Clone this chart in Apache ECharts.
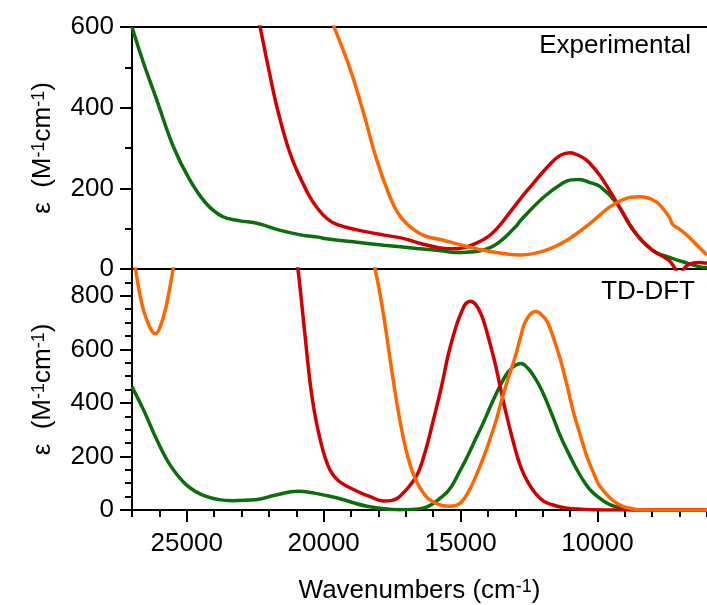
<!DOCTYPE html>
<html>
<head>
<meta charset="utf-8">
<script src="https://cdn.jsdelivr.net/npm/echarts@6/dist/echarts.min.js"></script>
<style>html,body{margin:0;padding:0;background:#fff}#c{width:707px;height:605px}</style>
</head>
<body>
<div id="c"></div>
<script>
// [wavenumber (cm-1), epsilon (M-1 cm-1)]
var expGreen = [[27000,600],[26600,515],[26100,420],[25500,305],[24900,222],[24300,163],[23700,130],[23100,120],[22400,113],[21650,97],[20800,84],[20200,79],[19900,75],[19000,68],[17800,59],[16600,51],[15700,45],[15200,41],[14500,43],[13750,59],[13000,104],[12800,121],[11950,179],[11250,214],[10950,221],[10650,222],[10300,215],[9900,204],[9300,163],[8700,97],[8000,47],[7300,27],[6700,14],[6300,6],[6000,3]];
var expRed = [[22550,680],[22320,600],[22000,493],[21650,386],[21180,278],[20580,188],[20220,150],[19860,124],[19500,110],[18780,97],[17800,84],[17100,76],[16400,62],[15800,53],[15200,50],[14600,59],[13850,88],[13000,158],[12550,196],[11700,262],[11350,282],[11000,288],[10700,282],[10400,270],[10100,248],[9800,221],[9200,154],[8600,88],[8000,47],[7400,22],[7200,5],[7000,-15],[6850,0],[6650,12],[6300,16],[6000,14]];
var expOrange = [[20000,660],[19620,600],[19020,493],[18540,386],[18060,270],[17580,179],[17300,140],[16980,113],[16380,84],[15660,72],[14940,59],[14220,47],[13500,39],[12800,35],[11950,45],[11100,72],[10270,113],[9550,154],[8950,175],[8470,179],[7870,167],[7390,130],[7250,110],[7030,100],[6670,80],[6310,55],[6000,35]];
var tdGreen = [[27000,460],[26575,373],[26094,262],[25615,169],[25014,94],[24295,51],[23338,35],[22497,38],[21777,55],[20939,70],[20340,63],[19860,53],[19500,45],[18420,14],[17223,1],[16380,7],[15660,51],[15350,85],[15064,138],[14750,200],[14465,262],[14150,330],[13863,398],[13550,465],[13267,515],[13000,540],[12785,547],[12550,530],[12306,497],[12050,450],[11827,398],[11600,340],[11346,274],[11050,210],[10748,150],[10450,100],[10148,63],[9547,20],[8950,4],[8500,0],[6000,0]];
var tdRed = [[21100,1000],[20940,900],[20700,671],[20460,448],[20220,305],[19860,170],[19500,113],[18780,70],[18300,50],[17820,34],[17500,36],[17223,50],[16623,125],[16300,215],[16022,324],[15700,460],[15425,590],[15150,690],[14943,745],[14800,772],[14644,780],[14450,768],[14224,725],[14000,650],[13745,550],[13386,382],[13026,235],[12800,160],[12547,105],[12250,60],[11946,32],[11500,15],[11107,7],[10148,1],[9500,0],[6000,0]];
var tdOrange = [[27000,960],[26874,900],[26694,795],[26453,708],[26155,658],[25856,720],[25615,832],[25496,900],[25300,1000],[24500,1300],[19000,1300],[18400,1000],[18122,900],[17820,733],[17460,485],[17100,274],[16741,138],[16263,51],[15785,20],[15425,14],[14943,32],[14345,150],[13745,320],[13500,410],[13267,490],[13026,565],[12800,650],[12666,696],[12450,732],[12246,741],[12050,730],[11827,702],[11600,640],[11346,559],[11100,460],[10867,361],[10600,270],[10389,200],[10150,140],[9907,88],[9310,26],[8710,4],[8200,0],[6000,0]];

var xMajor = [10000,15000,20000,25000];
var topYTicks = [0,200,400,600];
var botYTicks = [0,200,400,600,800];
var panelLabels = ['Experimental','TD-DFT'];

var FONT = '"Liberation Sans", Arial, sans-serif';
var BLACK = '#000';
var C_GREEN = '#0a6e0a', C_RED = '#d00000', C_ORANGE = '#ff6600';

var chart = echarts.init(document.getElementById('c'), null, {renderer:'canvas'});

var nameRich = {
  n: {fontSize: 26, fontFamily: FONT, color: BLACK, verticalAlign: 'bottom'},
  s: {fontSize: 18, fontFamily: FONT, color: BLACK, verticalAlign: 'top'}
};
var yName = '{n|\u03b5  (M}{s|-1}{n|cm}{s|-1}{n|)}';

function lineAxisX(grid, pos) {
  return {type:'value', gridIndex:grid, position:pos, min:6000, max:27000, inverse:true,
    axisLine:{show:true, onZero:false, lineStyle:{color:BLACK, width:2}},
    axisTick:{show:false}, axisLabel:{show:false}, splitLine:{show:false}};
}

function series(data, color, xi, yi) {
  return {type:'line', data:data, xAxisIndex:xi, yAxisIndex:yi, smooth:0.4, showSymbol:false,
    clip:true, lineStyle:{color:color, width:3.5}, itemStyle:{color:color}, silent:true};
}

var option = {
  animation:false,
  backgroundColor:'#fff',
  title:[
    {text:panelLabels[0], right:16, top:33, padding:0, textStyle:{fontFamily:FONT, fontSize:26, fontWeight:'normal', color:BLACK}},
    {text:panelLabels[1], right:12, top:279, padding:0, textStyle:{fontFamily:FONT, fontSize:26, fontWeight:'normal', color:BLACK}}
  ],
  grid:[
    {left:132, top:27, right:-8, height:242},
    {left:132, top:269, right:-8, height:243}
  ],
  xAxis:[
    lineAxisX(0,'bottom'),
    lineAxisX(0,'top'),
    {type:'value', gridIndex:1, position:'bottom', min:6000, max:27000, inverse:true,
      axisLine:{show:true, onZero:false, lineStyle:{color:BLACK, width:2}},
      axisTick:{show:true, inside:false, length:12, customValues:xMajor, lineStyle:{color:BLACK, width:2}},
      axisLabel:{show:true, customValues:xMajor, margin:21, fontSize:26, fontFamily:FONT, color:BLACK,
        formatter:function(v){ return String(v); }},
      splitLine:{show:false},
      name:'{n|Wavenumbers (cm}{s|-1}{n|)}', nameLocation:'middle', nameGap:68,
      nameTextStyle:{rich:nameRich}},
    {type:'value', gridIndex:1, position:'bottom', min:6000, max:27000, interval:1000, inverse:true,
      axisLine:{show:false, onZero:false},
      axisTick:{show:true, inside:false, length:7, lineStyle:{color:BLACK, width:2}},
      axisLabel:{show:false}, splitLine:{show:false}}
  ],
  yAxis:[
    {type:'value', gridIndex:0, position:'left', min:0, max:600, interval:200,
      axisLine:{show:true, onZero:false, lineStyle:{color:BLACK, width:2}},
      axisTick:{show:true, length:12, lineStyle:{color:BLACK, width:2}},
      minorTick:{show:true, splitNumber:2, length:7, lineStyle:{color:BLACK, width:2}},
      axisLabel:{margin:18, fontSize:26, fontFamily:FONT, color:BLACK,
        formatter:function(v){ return topYTicks.indexOf(v) >= 0 ? String(v) : ''; }},
      splitLine:{show:false}, minorSplitLine:{show:false},
      name:yName, nameLocation:'middle', nameRotate:90, nameGap:76,
      nameTextStyle:{rich:nameRich}},
    {type:'value', gridIndex:1, position:'left', min:0, max:900, interval:200,
      axisLine:{show:true, onZero:false, lineStyle:{color:BLACK, width:2}},
      axisTick:{show:true, length:12, lineStyle:{color:BLACK, width:2}},
      axisLabel:{margin:18, fontSize:26, fontFamily:FONT, color:BLACK, showMaxLabel:false,
        formatter:function(v){ return botYTicks.indexOf(v) >= 0 ? String(v) : ''; }},
      splitLine:{show:false},
      name:yName, nameLocation:'middle', nameRotate:90, nameGap:76,
      nameTextStyle:{rich:nameRich}},
    {type:'value', gridIndex:1, position:'left', min:0, max:900, interval:50,
      axisLine:{show:false, onZero:false},
      axisTick:{show:true, length:7, lineStyle:{color:BLACK, width:2}},
      axisLabel:{show:false}, splitLine:{show:false}}
  ],
  series:[
    series(expGreen, C_GREEN, 0, 0),
    series(expRed, C_RED, 0, 0),
    series(expOrange, C_ORANGE, 0, 0),
    series(tdGreen, C_GREEN, 2, 1),
    series(tdRed, C_RED, 2, 1),
    series(tdOrange, C_ORANGE, 2, 1)
  ]
};
chart.setOption(option);
</script>
</body>
</html>
